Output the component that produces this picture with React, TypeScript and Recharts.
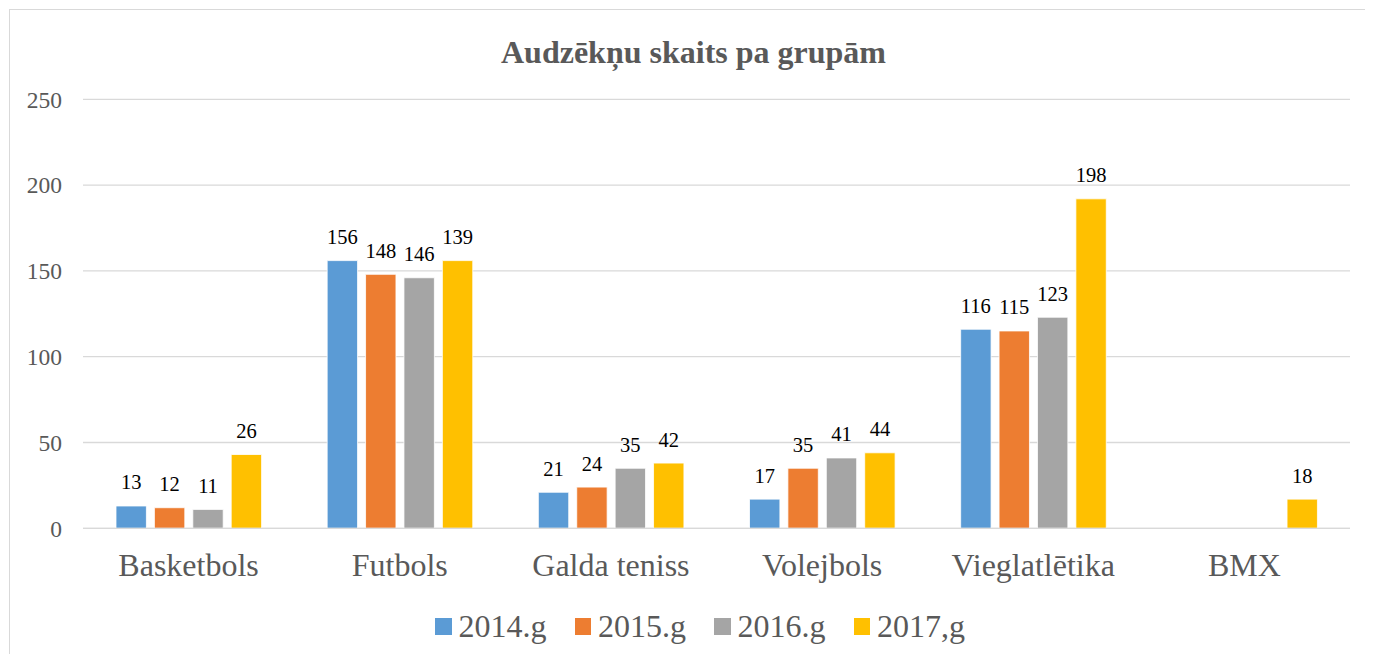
import React from 'react';
import { BarChart, Bar, XAxis, YAxis, CartesianGrid, LabelList } from 'recharts';

// categories and series
const categories = ['Basketbols', 'Futbols', 'Galda teniss', 'Volejbols', 'Vieglatlētika', 'BMX'];
const seriesNames = ['2014.g', '2015.g', '2016.g', '2017,g'];
const seriesColors = ['#5B9BD5', '#ED7D31', '#A5A5A5', '#FFC000'];

// bar heights (as drawn)
const values2014 = [13, 156, 21, 17, 116, null];
const values2015 = [12, 148, 24, 35, 115, null];
const values2016 = [11, 146, 35, 41, 123, null];
const values2017 = [43, 156, 38, 44, 192, 17];

// data labels (as printed, they differ from the bars in places)
const labels2014 = [13, 156, 21, 17, 116, null];
const labels2015 = [12, 148, 24, 35, 115, null];
const labels2016 = [11, 146, 35, 41, 123, null];
const labels2017 = [26, 139, 42, 44, 198, 18];

const yTicks = [0, 50, 100, 150, 200, 250];

const allValues = [values2014, values2015, values2016, values2017];
const allLabels = [labels2014, labels2015, labels2016, labels2017];

const chartData = categories.map((name, i) => {
  const row: Record<string, any> = { name };
  seriesNames.forEach((_, s) => {
    row[`v${s}`] = allValues[s][i];
    row[`l${s}`] = allLabels[s][i];
  });
  return row;
});

const FONT = '"Liberation Serif", "Times New Roman", serif';
const TEXT = '#595959';
const GRID = '#d9d9d9';

export default function App() {
  return (
    <div style={{ position: 'relative', width: 1357, height: 646, fontFamily: FONT }}>
      <div
        style={{
          position: 'absolute',
          left: 1,
          top: 1,
          width: 1364,
          height: 653,
          boxSizing: 'border-box',
          borderTop: `1px solid ${GRID}`,
          borderLeft: `1px solid ${GRID}`,
        }}
      />
      <div
        style={{
          position: 'absolute',
          left: 0,
          top: 26,
          width: 1371,
          textAlign: 'center',
          fontSize: 32,
          fontWeight: 'bold',
          color: TEXT,
        }}
      >
        Audzēkņu skaits pa grupām
      </div>
      <div style={{ position: 'absolute', left: 0, top: 0 }}>
        <BarChart
          width={1365}
          height={654}
          data={chartData}
          margin={{ top: 91.3, right: 23, left: 0, bottom: 73.7 }}
          barSize={30.4}
          barGap={8}
        >
          <CartesianGrid vertical={false} stroke={GRID} strokeWidth={1.3} />
          <XAxis
            dataKey="name"
            height={60}
            tickLine={false}
            tickSize={0}
            tickMargin={25}
            axisLine={{ stroke: GRID, strokeWidth: 1.3 }}
            tick={{ fill: TEXT, fontSize: 32, fontFamily: FONT }}
            interval={0}
          />
          <YAxis
            width={75}
            domain={[0, 250]}
            ticks={yTicks}
            axisLine={false}
            tickLine={false}
            tickSize={0}
            tickMargin={21}
            tick={{ fill: TEXT, fontSize: 23.5, fontFamily: FONT }}
          />
          {seriesNames.map((s, idx) => (
            <Bar
              key={s}
              dataKey={`v${idx}`}
              name={s}
              fill={seriesColors[idx]}
              stroke="#ffffff"
              strokeWidth={0.8}
              isAnimationActive={false}
            >
              <LabelList
                dataKey={`l${idx}`}
                position="top"
                offset={16.5}
                style={{ fill: '#000000', fontSize: 20.5, fontFamily: FONT }}
              />
            </Bar>
          ))}
        </BarChart>
      </div>
      <div
        style={{
          position: 'absolute',
          left: 427,
          top: 600,
          display: 'flex',
          alignItems: 'center',
          fontSize: 32,
          color: TEXT,
          whiteSpace: 'nowrap',
        }}
      >
        {seriesNames.map((s, idx) => (
          <div
            key={s}
            style={{
              display: 'flex',
              alignItems: 'center',
              marginRight: idx < seriesNames.length - 1 ? 28 : 0,
            }}
          >
            <span
              style={{
                display: 'inline-block',
                width: 16.5,
                height: 16.5,
                background: seriesColors[idx],
                marginRight: 7,
              }}
            />
            <span>{s}</span>
          </div>
        ))}
      </div>
    </div>
  );
}
